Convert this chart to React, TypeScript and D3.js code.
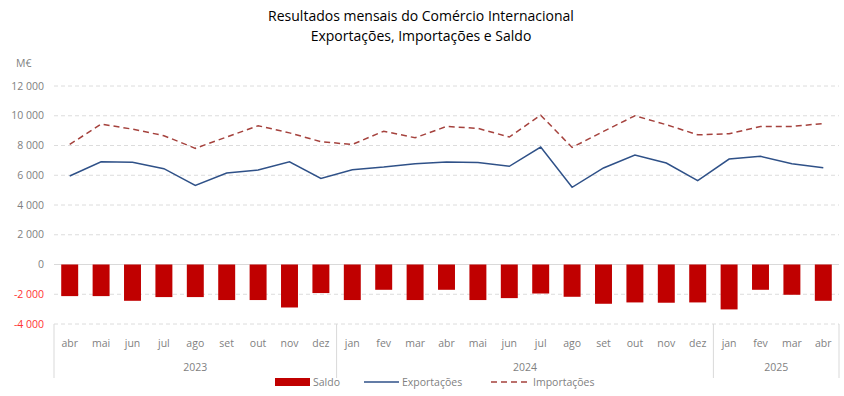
import React from "react";
import * as d3 from "d3";

// meses (abr 2023 .. abr 2025)
const months = ["abr", "mai", "jun", "jul", "ago", "set", "out", "nov", "dez",
  "jan", "fev", "mar", "abr", "mai", "jun", "jul", "ago", "set", "out", "nov", "dez",
  "jan", "fev", "mar", "abr"];
const years = [
  { label: "2023", start: 0, end: 9 },
  { label: "2024", start: 9, end: 21 },
  { label: "2025", start: 21, end: 25 },
];

const exportacoes = [5950, 6900, 6870, 6440, 5320, 6150, 6350, 6900, 5790,
  6375, 6550, 6780, 6890, 6850, 6600, 7900, 5190, 6490, 7360, 6820, 5640,
  7090, 7270, 6780, 6510];
const importacoes = [8070, 9440, 9100, 8660, 7810, 8570, 9330, 8850, 8255,
  8070, 8960, 8520, 9280, 9150, 8570, 10040, 7870, 8950, 10000, 9400, 8720,
  8790, 9280, 9280, 9480];
const saldo = [-2125, -2125, -2440, -2190, -2190, -2390, -2390, -2890, -1920,
  -2390, -1700, -2390, -1700, -2390, -2260, -1950, -2170, -2640, -2550, -2570, -2550,
  -3020, -1700, -2035, -2440];

const yTicks = [-4000, -2000, 0, 2000, 4000, 6000, 8000, 10000, 12000];

const W = 844;
const H = 396;
const FONT = "'Open Sans', sans-serif";

const fmt = (v: number) => {
  const s = d3.format(",")(v).replace(/,/g, " ");
  return s.replace("−", "-");
};

export default function App() {
  const x = d3.scaleBand<number>().domain(d3.range(months.length)).range([54, 839]).padding(0);
  const y = d3.scaleLinear().domain([-4000, 12000]).range([324, 86]);
  const cx = (i: number) => (x(i) as number) + x.bandwidth() / 2;
  const barW = x.bandwidth() * 0.54;

  const line = d3.line<number>().x((_, i) => cx(i)).y((d) => y(d));

  const [x0, x1] = x.range();

  return (
    <svg width={W} height={H} style={{ position: "absolute", left: 0, top: 0, background: "#fff" }}
      fontFamily={FONT}>
      {/* título */}
      <text x={421} y={21} textAnchor="middle" fontSize={14} fill="#000">Resultados mensais do Comércio Internacional</text>
      <text x={421} y={41} textAnchor="middle" fontSize={14} fill="#000">Exportações, Importações e Saldo</text>

      <text x={16} y={67} fontSize={10.5} fill="#7f7f7f">M€</text>

      {/* grelha */}
      {yTicks.map((t) => (
        <g key={t}>
          <line x1={x0} x2={x1} y1={y(t)} y2={y(t)}
            stroke={t === 0 ? "#d9d9d9" : "#dcdcdc"}
            strokeDasharray={t === 0 ? undefined : "4 3"} strokeWidth={1} />
          <text x={44} y={y(t)} dy="0.35em" textAnchor="end" fontSize={10.5}
            fill={t < 0 ? "#ff3333" : "#7f7f7f"}>{fmt(t)}</text>
        </g>
      ))}

      {/* barras saldo */}
      {saldo.map((v, i) => (
        <rect key={i} x={cx(i) - barW / 2} y={y(0)} width={barW} height={y(v) - y(0)} fill="#c00000" />
      ))}

      {/* linhas */}
      <path d={line(exportacoes) as string} fill="none" stroke="#2f5188" strokeWidth={1.5} />
      <path d={line(importacoes) as string} fill="none" stroke="#a5423d" strokeWidth={1.5} strokeDasharray="6 4" />

      {/* eixo categorias */}
      {months.map((m, i) => (
        <text key={i} x={cx(i)} y={347} textAnchor="middle" fontSize={10.5} fill="#7f7f7f">{m}</text>
      ))}
      {years.map((yr) => (
        <g key={yr.label}>
          <line x1={x(yr.start)} x2={x(yr.start)} y1={324} y2={378} stroke="#d9d9d9" />
          <text x={((x(yr.start) as number) + (yr.end < months.length ? (x(yr.end) as number) : x1)) / 2}
            y={371} textAnchor="middle" fontSize={10.5} fill="#7f7f7f">{yr.label}</text>
        </g>
      ))}
      <line x1={x1} x2={x1} y1={324} y2={378} stroke="#d9d9d9" />

      {/* legenda */}
      <rect x={275} y={378} width={35} height={8} fill="#c00000" />
      <text x={313} y={386} fontSize={10.5} fill="#7f7f7f">Saldo</text>
      <line x1={364} x2={399} y1={382} y2={382} stroke="#2f5188" strokeWidth={1.5} />
      <text x={402} y={386} fontSize={10.5} fill="#7f7f7f">Exportações</text>
      <line x1={491} x2={529} y1={382} y2={382} stroke="#a5423d" strokeWidth={1.5} strokeDasharray="6 4" />
      <text x={533} y={386} fontSize={10.5} fill="#7f7f7f">Importações</text>
    </svg>
  );
}
